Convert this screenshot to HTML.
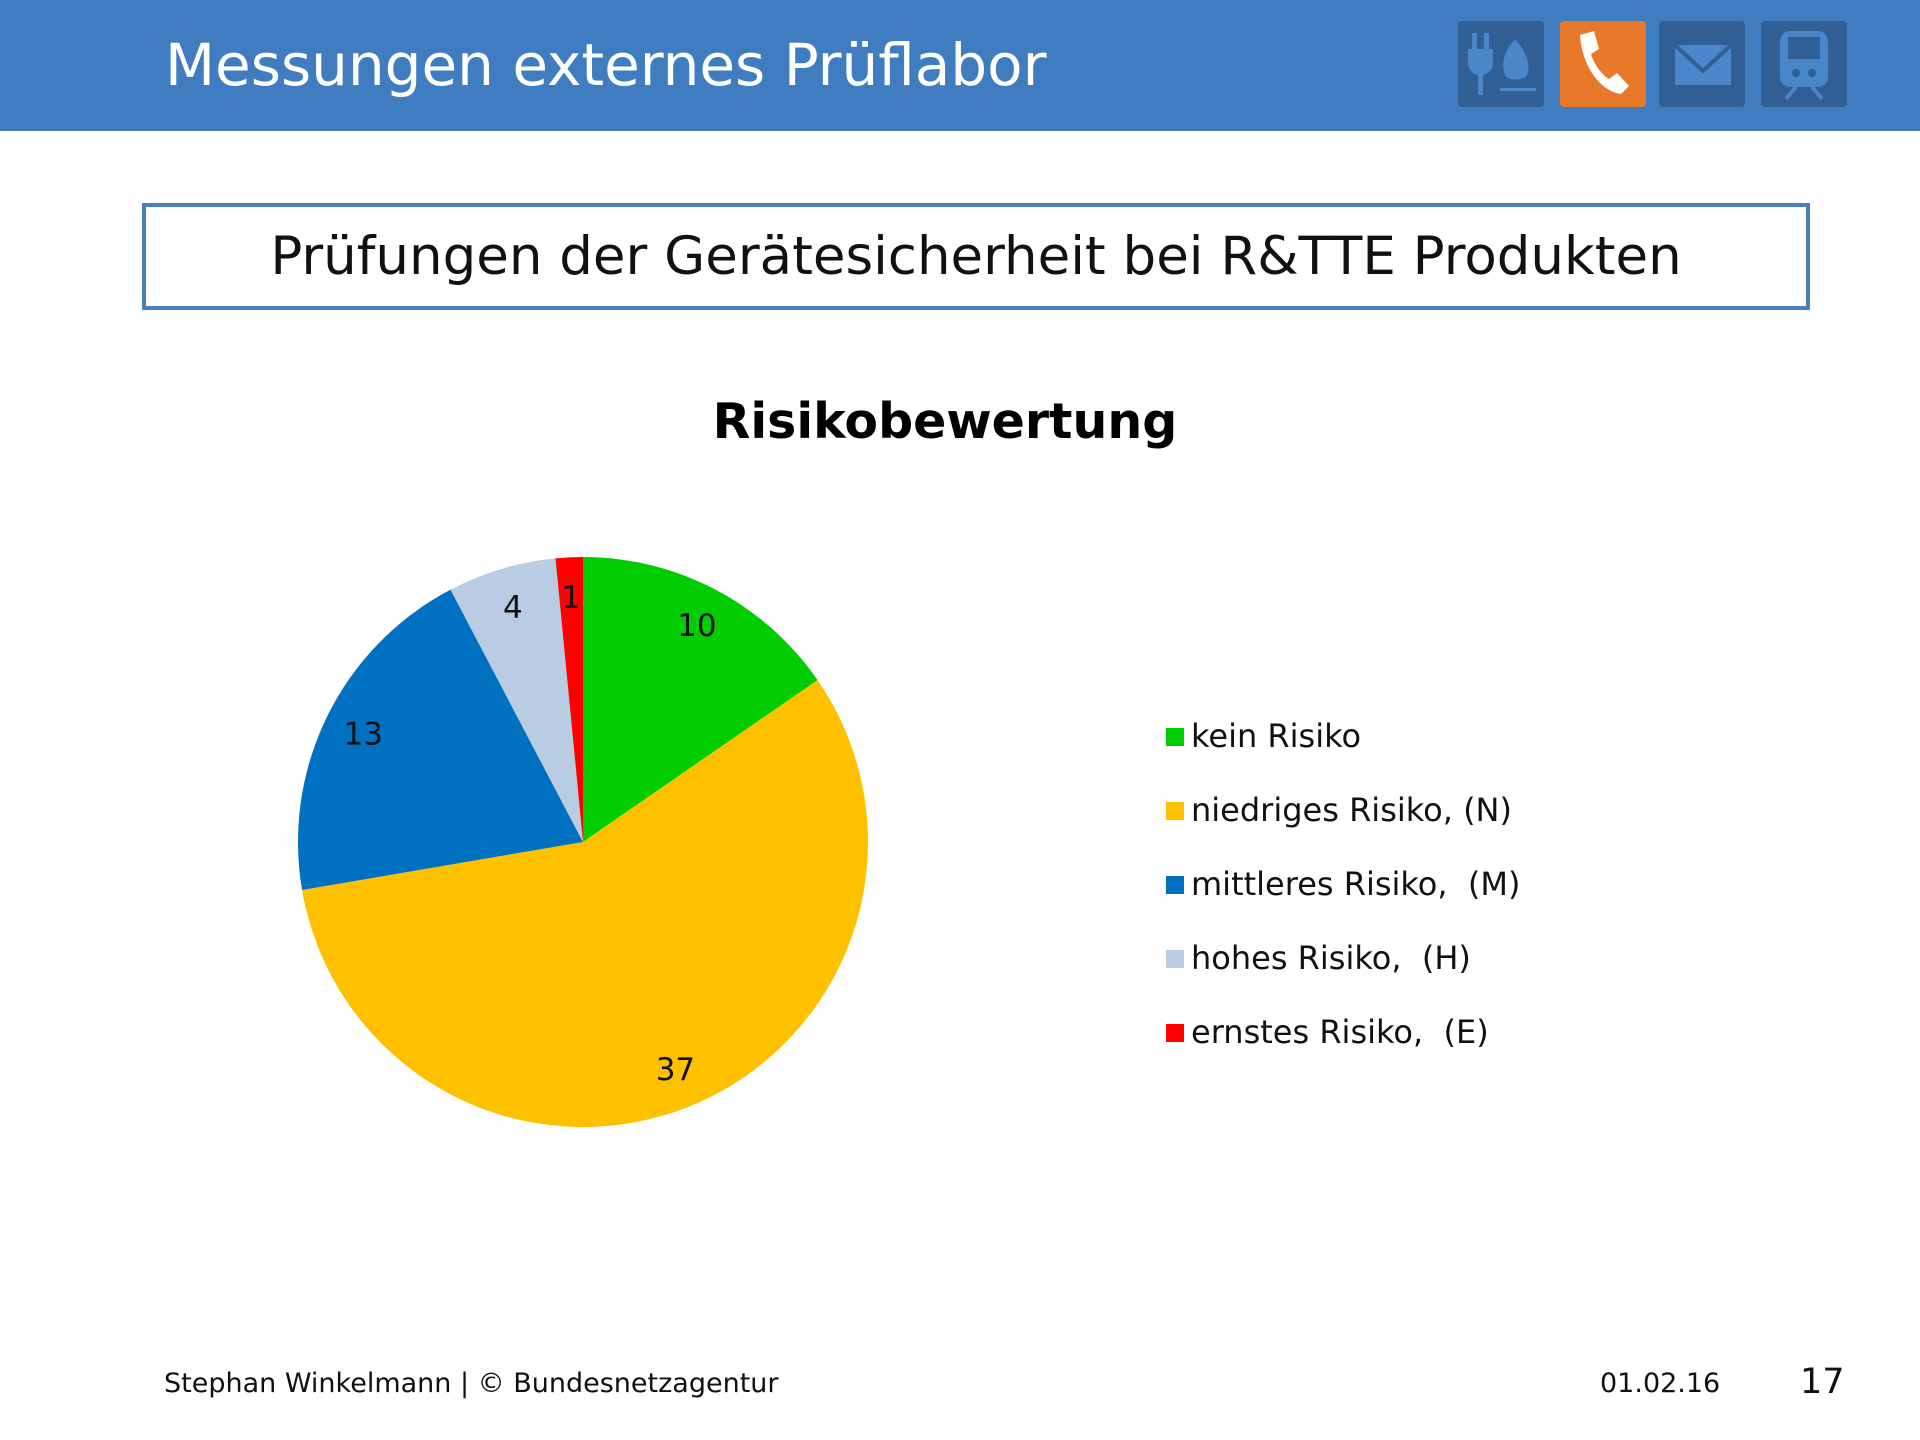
<!DOCTYPE html>
<html><head><meta charset="utf-8">
<style>
body{margin:0;width:1920px;height:1440px;background:#fff;position:relative;overflow:hidden;font-family:"DejaVu Sans","Liberation Sans",sans-serif;}
.abs{position:absolute;}
#hdr{left:0;top:0;width:1920px;height:131px;background:#3F7CC0;}
#hdr-title{left:165px;top:31px;font-size:58px;color:#fff;white-space:nowrap;}
.icon{position:absolute;top:21px;width:86px;height:86px;border-radius:4px;background:#305F95;}
#box{left:142px;top:203px;width:1660px;height:99px;border:4px solid #4A7EC2;font-size:53px;text-align:center;line-height:99px;color:#111;}
#ctitle{left:0;width:1890px;top:393px;text-align:center;font-weight:bold;font-size:49px;color:#000;}
.leg{position:absolute;left:1166px;font-size:32px;color:#111;white-space:pre;}
.leg span.sw{display:inline-block;width:18px;height:18px;margin-right:7px;vertical-align:1px;}
.foot{position:absolute;top:1368px;font-size:27px;color:#111;white-space:nowrap;}
</style></head><body>
<div id="hdr" class="abs"></div>
<div id="hdr-title" class="abs">Messungen externes Prüflabor</div>
<div class="icon" style="left:1458px">
<svg width="86" height="86" viewBox="0 0 86 86"><g fill="#4A87CA"><rect x="14" y="12" width="5" height="16"/><rect x="26" y="12" width="5" height="16"/><path d="M10 28h25v14a12 12 0 0 1-10 12v20h-5V54a12 12 0 0 1-10-12z"/><path d="M57 18c-12 14-14 26-10 36 3 6 18 6 22 0 4-10 0-22-12-36z"/><rect x="42" y="67" width="36" height="3"/></g></svg></div>
<div class="icon" style="left:1560px;background:#E8792A">
<svg width="86" height="86" viewBox="0 0 86 86"><path d="M20 14l14-4 5 18-8 5c3 10 10 20 18 25l8-6 12 13-8 8C40 70 22 45 20 14z" fill="#fff"/></svg></div>
<div class="icon" style="left:1659px">
<svg width="86" height="86" viewBox="0 0 86 86"><g fill="none" stroke="#4A87CA" stroke-width="4"><rect x="16" y="24" width="56" height="40" fill="#4A87CA" stroke="none"/><path d="M16 24l28 26 28-26" stroke="#305F95"/></g></svg></div>
<div class="icon" style="left:1761px">
<svg width="86" height="86" viewBox="0 0 86 86"><rect x="19" y="10" width="48" height="56" rx="10" fill="#4A87CA"/><rect x="27" y="16" width="32" height="22" fill="#305F95"/><circle cx="35" cy="52" r="4" fill="#305F95"/><circle cx="51" cy="52" r="4" fill="#305F95"/><path d="M25 78l10-12M61 78L51 66" stroke="#4A87CA" stroke-width="4"/></svg></div>

<div id="box" class="abs">Prüfungen der Gerätesicherheit bei R&amp;TTE Produkten</div>
<div id="ctitle" class="abs">Risikobewertung</div>

<svg id="pie" class="abs" style="left:0;top:0" width="1920" height="1440"></svg>
<div id="legend"></div>

<div class="foot" style="left:164px">Stephan Winkelmann | © Bundesnetzagentur</div>
<div class="foot" style="left:1600px">01.02.16</div>
<div class="foot" style="left:1800px;top:1362px;font-size:35px">17</div>

<script>
const categories = ["kein Risiko","niedriges Risiko, (N)","mittleres Risiko,  (M)","hohes Risiko,  (H)","ernstes Risiko,  (E)"];
const values = [10,37,13,4,1];
const colors = ["#00CC00","#FFC000","#0070C0","#B8CCE4","#FF0000"];
const sliceNames = ["slice-kein","slice-niedrig","slice-mittel","slice-hoch","slice-ernst"];

const cx=583, cy=842, R=285;
const svg=document.getElementById('pie');
const NS="http://www.w3.org/2000/svg";
const total=values.reduce((a,b)=>a+b,0);
function pt(a,r){return [cx+r*Math.sin(a), cy-r*Math.cos(a)];}
let acc=0;
values.forEach((v,i)=>{
  const a0=acc/total*2*Math.PI; acc+=v; const a1=acc/total*2*Math.PI;
  const p0=pt(a0,R), p1=pt(a1,R);
  const large=(a1-a0)>Math.PI?1:0;
  const path=document.createElementNS(NS,'path');
  path.setAttribute('d',`M${cx},${cy}L${p0[0]},${p0[1]}A${R},${R} 0 ${large} 1 ${p1[0]},${p1[1]}Z`);
  path.setAttribute('fill',colors[i]);
  
  
  svg.appendChild(path);
  const am=(a0+a1)/2; const lp=pt(am,R*0.86);
  const t=document.createElementNS(NS,'text');
  t.setAttribute('x',lp[0]); t.setAttribute('y',lp[1]+11);
  t.setAttribute('text-anchor','middle');
  t.setAttribute('font-size','31');
  t.setAttribute('font-family','"DejaVu Sans","Liberation Sans",sans-serif');
  t.setAttribute('fill','#111');
  t.textContent=values[i];
  
  
  svg.appendChild(t);
});
const leg=document.getElementById('legend');
const rowY=[735,809,883,958,1031];
categories.forEach((c,i)=>{
  const d=document.createElement('div');
  d.className='leg';
  d.style.top=(rowY[0]+i*74-18)+'px';
  d.innerHTML='<span class="sw" style="background:'+colors[i]+'"></span>'+c;
  
  
  leg.appendChild(d);
});
</script>
</body></html>
